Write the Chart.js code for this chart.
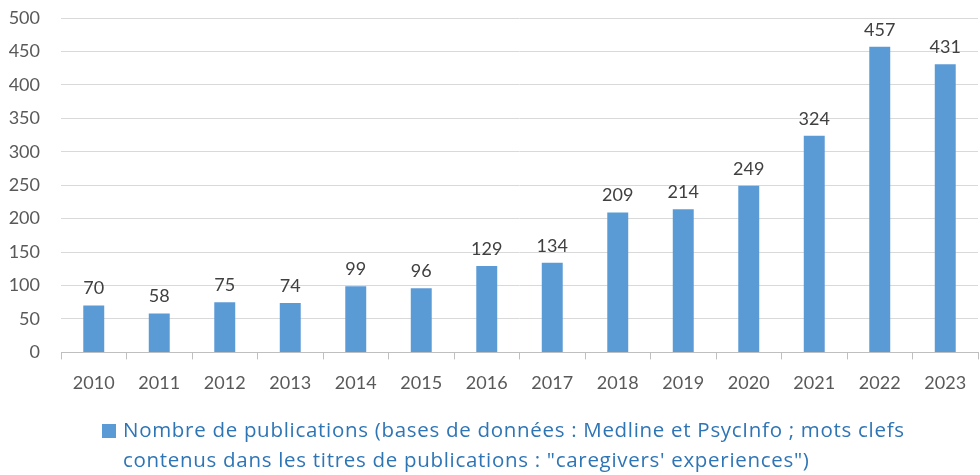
<!DOCTYPE html>
<html>
<head>
<meta charset="utf-8">
<script src="https://cdn.jsdelivr.net/npm/chart.js@4"></script>
<style>
html,body{margin:0;padding:0;background:#fff;}
#wrap{position:relative;width:980px;height:475px;}
</style>
</head>
<body>
<div id="wrap"><canvas id="c" width="980" height="475"></canvas></div>
<script>
const categories = ['2010','2011','2012','2013','2014','2015','2016','2017','2018','2019','2020','2021','2022','2023'];
const publications = [70,58,75,74,99,96,129,134,209,214,249,324,457,431];
const legendLines = ['Nombre de publications (bases de données : Medline et PsycInfo ; mots clefs', 'contenus dans les titres de publications : "caregivers\' experiences")'];
const seriesLabel = legendLines.join(' ');

const FONT = 'Lato, "Noto Sans", sans-serif';
const LEGEND_FONT = '"Open Sans", "Noto Sans", sans-serif';
const BAR = '#5B9BD5';

const dataLabels = {
  id: 'dataLabels',
  afterDatasetsDraw(chart) {
    const ctx = chart.ctx;
    const meta = chart.getDatasetMeta(0);
    ctx.save();
    ctx.font = '18px ' + FONT;
    ctx.fillStyle = '#404040';
    ctx.textAlign = 'center';
    ctx.textBaseline = 'middle';
    meta.data.forEach((el, i) => {
      ctx.fillText(String(chart.data.datasets[0].data[i]), el.x, el.y - 17);
    });
    ctx.restore();
  }
};

const customLegend = {
  id: 'customLegend',
  afterDraw(chart) {
    const ctx = chart.ctx;
    ctx.save();
    ctx.font = '20.5px ' + LEGEND_FONT;
    if ('letterSpacing' in ctx) ctx.letterSpacing = '0.7px';
    ctx.textAlign = 'left';
    ctx.textBaseline = 'middle';
    const x0 = 123, y0 = 431, lh = 30;
    ctx.fillStyle = BAR;
    ctx.fillRect(102, 424, 14, 14);
    ctx.fillStyle = '#2E75B6';
    legendLines.forEach((t, i) => ctx.fillText(t, x0, y0 + i * lh));
    ctx.restore();
  }
};

new Chart(document.getElementById('c'), {
  type: 'bar',
  data: {
    labels: categories,
    datasets: [{
      label: seriesLabel,
      data: publications,
      backgroundColor: BAR,
      borderWidth: 0,
      barPercentage: 0.64,
      categoryPercentage: 0.5
    }]
  },
  options: {
    responsive: false,
    animation: false,
    layout: { autoPadding: false, padding: { left: 8, right: 2, top: 18, bottom: 68 } },
    plugins: { legend: { display: false }, tooltip: { enabled: false } },
    scales: {
      x: {
        grid: { display: true, drawOnChartArea: false, drawTicks: true, tickLength: 7, color: '#BFBFBF', offset: true },
        border: { display: true, color: '#BFBFBF', width: 1 },
        ticks: { color: '#595959', font: { family: FONT, size: 18 }, padding: 13, maxRotation: 0 }
      },
      y: {
        min: 0, max: 500,
        afterFit(scale) { scale.width = 53; scale.paddingTop = 0; scale.paddingBottom = 0; },
        ticks: { stepSize: 50, color: '#595959', font: { family: FONT, size: 18 }, padding: 21 },
        grid: { color: '#D9D9D9', lineWidth: 1, drawTicks: false },
        border: { display: false }
      }
    }
  },
  plugins: [dataLabels, customLegend]
});
</script>
</body>
</html>
